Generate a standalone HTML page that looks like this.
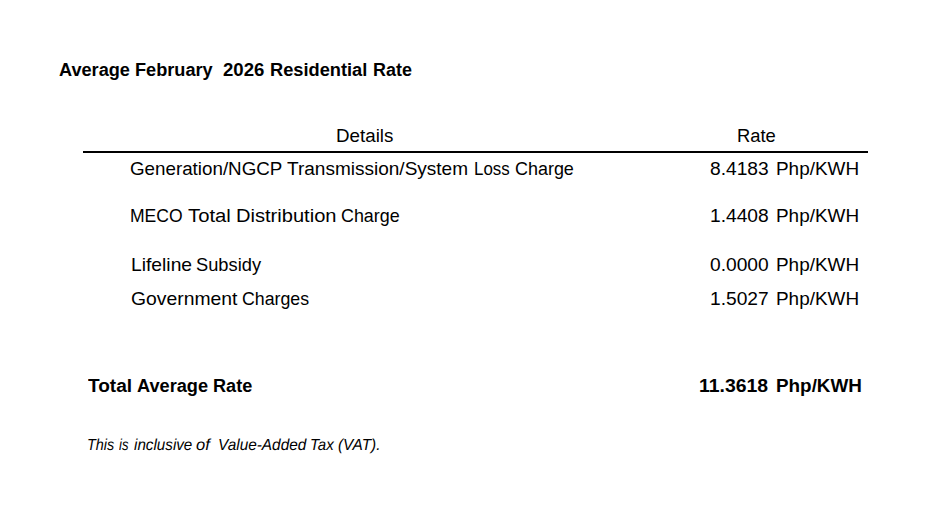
<!DOCTYPE html>
<html><head><meta charset="utf-8"><style>
html,body{margin:0;padding:0;background:#fff;width:952px;height:512px;overflow:hidden;}
.t{position:absolute;font-family:"Liberation Sans",sans-serif;white-space:pre;color:#000;transform-origin:0 0;}
.r{font-weight:400;}
.b{font-weight:700;}
.i{font-style:italic;text-rendering:geometricPrecision;}
.rule{position:absolute;left:83px;top:151px;width:785px;height:2px;background:#000;}
</style></head><body>
<div class="rule"></div>
<div class="t b" style="left:59.02px;top:61px;font-size:18.75px;line-height:18.75px;transform:scaleX(0.9675)">Average</div>
<div class="t b" style="left:135.49px;top:61px;font-size:18.75px;line-height:18.75px;transform:scaleX(0.9674)">February</div>
<div class="t b" style="left:223.18px;top:61px;font-size:18.75px;line-height:18.75px;transform:scaleX(0.9926)">2026</div>
<div class="t b" style="left:270.08px;top:61px;font-size:18.75px;line-height:18.75px;transform:scaleX(0.9723)">Residential</div>
<div class="t b" style="left:372.65px;top:61px;font-size:18.75px;line-height:18.75px;transform:scaleX(0.9561)">Rate</div>
<div class="t r" style="left:336.27px;top:127px;font-size:18.46px;line-height:18.46px;transform:scaleX(1.0175)">Details</div>
<div class="t r" style="left:737.21px;top:127px;font-size:18.46px;line-height:18.46px;transform:scaleX(0.9959)">Rate</div>
<div class="t r" style="left:130.41px;top:160px;font-size:18.46px;line-height:18.46px;transform:scaleX(1.0182)">Generation/NGCP</div>
<div class="t r" style="left:287.41px;top:160px;font-size:18.46px;line-height:18.46px;transform:scaleX(1.0313)">Transmission/System</div>
<div class="t r" style="left:473.63px;top:160px;font-size:18.46px;line-height:18.46px;transform:scaleX(0.9153)">Loss</div>
<div class="t r" style="left:514.75px;top:160px;font-size:18.46px;line-height:18.46px;transform:scaleX(0.9732)">Charge</div>
<div class="t r" style="left:130.47px;top:207px;font-size:18.46px;line-height:18.46px;transform:scaleX(0.9509)">MECO</div>
<div class="t r" style="left:187.69px;top:207px;font-size:18.46px;line-height:18.46px;transform:scaleX(1.0997)">Total</div>
<div class="t r" style="left:235.57px;top:207px;font-size:18.46px;line-height:18.46px;transform:scaleX(1.0897)">Distribution</div>
<div class="t r" style="left:341.25px;top:207px;font-size:18.46px;line-height:18.46px;transform:scaleX(0.9699)">Charge</div>
<div class="t r" style="left:130.53px;top:256px;font-size:18.46px;line-height:18.46px;transform:scaleX(1.0453)">Lifeline</div>
<div class="t r" style="left:196.23px;top:256px;font-size:18.46px;line-height:18.46px;transform:scaleX(0.9915)">Subsidy</div>
<div class="t r" style="left:130.58px;top:290px;font-size:18.46px;line-height:18.46px;transform:scaleX(1.0484)">Government</div>
<div class="t r" style="left:242.16px;top:290px;font-size:18.46px;line-height:18.46px;transform:scaleX(0.9626)">Charges</div>
<div class="t b" style="left:87.87px;top:377px;font-size:18.75px;line-height:18.75px;transform:scaleX(1.0167)">Total</div>
<div class="t b" style="left:136.72px;top:377px;font-size:18.75px;line-height:18.75px;transform:scaleX(0.9696)">Average</div>
<div class="t b" style="left:212.89px;top:377px;font-size:18.75px;line-height:18.75px;transform:scaleX(0.9652)">Rate</div>
<div class="t i" style="left:87.26px;top:438px;font-size:16.0px;line-height:16.0px;transform:scaleX(0.9018)">This</div>
<div class="t i" style="left:119.40px;top:438px;font-size:16.0px;line-height:16.0px;transform:scaleX(0.8182)">is</div>
<div class="t i" style="left:133.56px;top:438px;font-size:16.0px;line-height:16.0px;transform:scaleX(0.9504)">inclusive</div>
<div class="t i" style="left:195.78px;top:438px;font-size:16.0px;line-height:16.0px;transform:scaleX(1.0316)">of</div>
<div class="t i" style="left:217.58px;top:438px;font-size:16.0px;line-height:16.0px;transform:scaleX(0.9604)">Value-Added</div>
<div class="t i" style="left:310.01px;top:438px;font-size:16.0px;line-height:16.0px;transform:scaleX(0.9402)">Tax</div>
<div class="t i" style="left:338.18px;top:438px;font-size:16.0px;line-height:16.0px;transform:scaleX(0.9614)">(VAT).</div>
<div class="t r" style="left:709.85px;top:160px;font-size:18.46px;line-height:18.46px;transform:scaleX(1.0413)">8.4183</div>
<div class="t r" style="left:709.85px;top:207px;font-size:18.46px;line-height:18.46px;transform:scaleX(1.0413)">1.4408</div>
<div class="t r" style="left:709.85px;top:256px;font-size:18.46px;line-height:18.46px;transform:scaleX(1.0413)">0.0000</div>
<div class="t r" style="left:709.85px;top:290px;font-size:18.46px;line-height:18.46px;transform:scaleX(1.0413)">1.5027</div>
<div class="t r" style="left:776.46px;top:160px;font-size:18.46px;line-height:18.46px;transform:scaleX(1.0266)">Php/KWH</div>
<div class="t r" style="left:776.46px;top:207px;font-size:18.46px;line-height:18.46px;transform:scaleX(1.0266)">Php/KWH</div>
<div class="t r" style="left:776.46px;top:256px;font-size:18.46px;line-height:18.46px;transform:scaleX(1.0266)">Php/KWH</div>
<div class="t r" style="left:776.46px;top:290px;font-size:18.46px;line-height:18.46px;transform:scaleX(1.0266)">Php/KWH</div>
<div class="t b" style="left:699.34px;top:377px;font-size:18.75px;line-height:18.75px;transform:scaleX(1.0349)">11.3618</div>
<div class="t b" style="left:776.44px;top:377px;font-size:18.75px;line-height:18.75px;transform:scaleX(1.0060)">Php/KWH</div>
</body></html>
